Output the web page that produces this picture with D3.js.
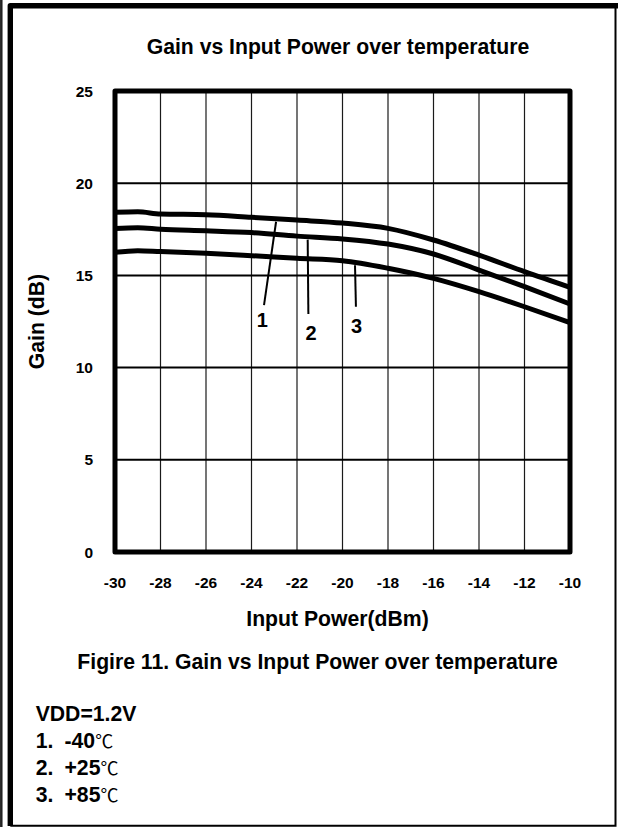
<!DOCTYPE html>
<html>
<head>
<meta charset="utf-8">
<script src="https://cdnjs.cloudflare.com/ajax/libs/d3/7.8.5/d3.min.js"></script>
<style>
  body { margin: 0; background: #fff; }
  svg text { font-family: "Liberation Sans", Arial, sans-serif; font-weight: bold; fill: #000; }
</style>
</head>
<body>
<div id="chart"></div>
<script>
// Gain vs input power
var xTicks = [-30, -28, -26, -24, -22, -20, -18, -16, -14, -12, -10];
var yTicks = [0, 5, 10, 15, 20, 25];

var seriesNames = ['1', '2', '3'];
var inputPower = [-30, -29, -28, -26, -24, -22, -20, -18, -16, -14, -12, -10];
var gainMinus40 = [18.42, 18.45, 18.33, 18.29, 18.15, 18.0, 17.84, 17.55, 16.92, 16.1, 15.2, 14.35];
var gain25 = [17.55, 17.59, 17.5, 17.42, 17.32, 17.13, 16.98, 16.7, 16.16, 15.29, 14.39, 13.45];
var gain85 = [16.25, 16.34, 16.29, 16.2, 16.07, 15.93, 15.8, 15.39, 14.84, 14.12, 13.3, 12.44];

// curve callouts, in data units: text spot, leader bottom, leader top
var calloutText = [[-23.52, 12.22], [-21.38, 11.5], [-19.38, 11.88]];
var calloutFrom = [[-23.45, 13.39], [-21.5, 12.91], [-19.41, 13.3]];
var calloutTo = [[-22.92, 17.91], [-21.53, 16.94], [-19.45, 15.55]];

var legendLines = [['VDD=1.2V', ''], ['1.', '-40'], ['2.', '+25'], ['3.', '+85']];

var W = 618, H = 827;
var plot = { left: 115, right: 570, top: 91, bottom: 552 };
var bigFont = '21.2px';

var svg = d3.select('#chart').append('svg')
    .attr('width', W)
    .attr('height', H);

// page border: thin outer rule, heavy left/top, light right/bottom
svg.append('line')
    .attr('x1', 1.3).attr('y1', 0).attr('x2', 1.3).attr('y2', H)
    .style('stroke', '#222').style('stroke-width', 2.5);
svg.append('path')
    .attr('d', 'M10.3,' + (H - 1) + ' L10.3,5.8 L' + W + ',5.8')
    .style('fill', 'none').style('stroke', '#000').style('stroke-width', 5.4)
    .style('stroke-linejoin', 'round');
svg.append('path')
    .attr('d', 'M615.5,5.8 L615.5,825.7 L10.3,825.7')
    .style('fill', 'none').style('stroke', '#000').style('stroke-width', 2);

var x = d3.scaleLinear().domain([-30, -10]).range([plot.left, plot.right]);
var y = d3.scaleLinear().domain([0, 25]).range([plot.bottom, plot.top]);

// grid
svg.append('g').selectAll('line')
    .data(xTicks.slice(1, -1))
    .enter().append('line')
        .attr('x1', function(d) { return x(d); })
        .attr('x2', function(d) { return x(d); })
        .attr('y1', plot.top)
        .attr('y2', plot.bottom)
        .style('stroke', '#1a1a1a').style('stroke-width', 1.2);
svg.append('g').selectAll('line')
    .data(yTicks.slice(1, -1))
    .enter().append('line')
        .attr('x1', plot.left)
        .attr('x2', plot.right)
        .attr('y1', function(d) { return y(d); })
        .attr('y2', function(d) { return y(d); })
        .style('stroke', '#000').style('stroke-width', 2);

// curves
var series = [gainMinus40, gain25, gain85].map(function(vals, i) {
    return { name: seriesNames[i], pts: vals.map(function(v, j) { return [inputPower[j], v]; }) };
});
var lineGen = d3.line()
    .x(function(d) { return x(d[0]); })
    .y(function(d) { return y(d[1]); })
    .curve(d3.curveMonotoneX);
svg.append('g').selectAll('path')
    .data(series)
    .enter().append('path')
        .attr('d', function(d) { return lineGen(d.pts); })
        .style('fill', 'none')
        .style('stroke', '#000')
        .style('stroke-width', 5);

// plot frame
svg.append('rect')
    .attr('x', plot.left).attr('y', plot.top)
    .attr('width', plot.right - plot.left)
    .attr('height', plot.bottom - plot.top)
    .style('fill', 'none').style('stroke', '#000').style('stroke-width', 5)
    .style('stroke-linejoin', 'round');

// tick labels
svg.append('g').selectAll('text')
    .data(yTicks)
    .enter().append('text')
        .attr('x', plot.left - 22)
        .attr('y', function(d) { return y(d) + 5.6; })
        .attr('text-anchor', 'end')
        .style('font-size', '15.5px')
        .text(function(d) { return d; });
svg.append('g').selectAll('text')
    .data(xTicks)
    .enter().append('text')
        .attr('x', function(d) { return x(d); })
        .attr('y', 588)
        .attr('text-anchor', 'middle')
        .style('font-size', '15.5px')
        .text(function(d) { return d; });

// callouts 1 / 2 / 3
seriesNames.forEach(function(name, i) {
    svg.append('line')
        .attr('x1', x(calloutFrom[i][0])).attr('y1', y(calloutFrom[i][1]))
        .attr('x2', x(calloutTo[i][0])).attr('y2', y(calloutTo[i][1]))
        .style('stroke', '#000').style('stroke-width', 2);
    svg.append('text')
        .attr('x', x(calloutText[i][0]))
        .attr('y', y(calloutText[i][1]))
        .attr('text-anchor', 'middle')
        .style('font-size', '20px')
        .text(name);
});

// titles
svg.append('text')
    .attr('x', 338).attr('y', 54)
    .attr('text-anchor', 'middle')
    .style('font-size', bigFont)
    .text('Gain vs Input Power over temperature');
svg.append('text')
    .attr('transform', 'translate(44,' + ((plot.top + plot.bottom) / 2) + ') rotate(-90)')
    .attr('text-anchor', 'middle')
    .style('font-size', bigFont)
    .text('Gain (dB)');
svg.append('text')
    .attr('x', 337.5).attr('y', 626)
    .attr('text-anchor', 'middle')
    .style('font-size', bigFont)
    .text('Input Power(dBm)');
svg.append('text')
    .attr('x', 317.5).attr('y', 669)
    .attr('text-anchor', 'middle')
    .style('font-size', bigFont)
    .text('Figire 11. Gain vs Input Power over temperature');

// conditions list under the caption
legendLines.forEach(function(row, i) {
    var t = svg.append('text')
        .attr('y', 720.7 + i * 27.1)
        .style('font-size', bigFont);
    t.append('tspan').attr('x', 35.7).text(row[0]);
    if (row[1] !== '') {
        t.append('tspan').attr('x', 64.5).text(row[1]);
        // degree sign from the CJK face, kept a bit smaller so rows don't collide
        t.append('tspan')
            .style('font-family', '"Noto Sans CJK SC", "DejaVu Sans", sans-serif')
            .style('font-weight', 'normal')
            .style('font-size', '18px')
            .text('\u2103');
    }
});
</script>
</body>
</html>
